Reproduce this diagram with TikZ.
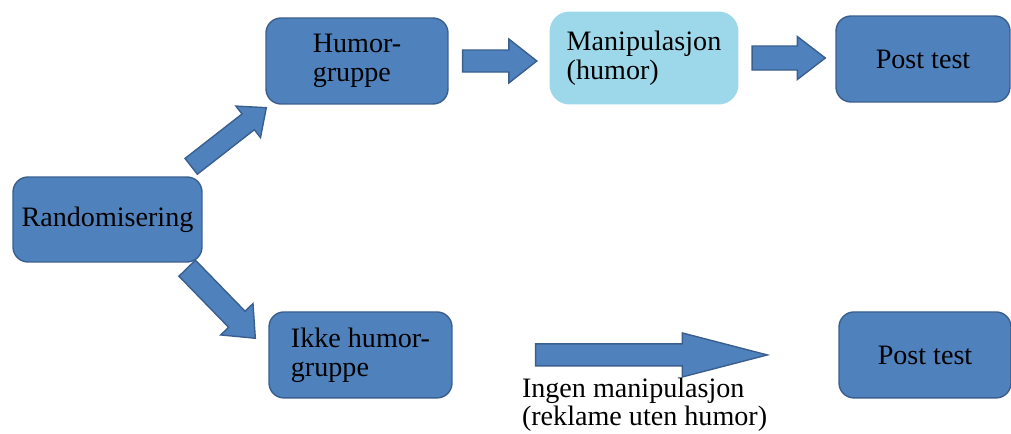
\documentclass[tikz,border=0pt]{standalone}
\usepackage{fontspec}
\setmainfont{Liberation Serif}
\usetikzlibrary{calc}
\definecolor{boxblue}{HTML}{4F81BD}
\definecolor{boxline}{HTML}{3A5F8F}
\definecolor{lightblue}{HTML}{9DD8EA}

\newcommand{\blockarrow}[5]{%
	\coordinate (BA) at ($(#2)!#5!(#1)$);
	\filldraw[arrowfill] ($(#1)!#3!90:(#2)$) -- ($(BA)!#3!90:(#2)$) -- ($(BA)!#4!90:(#2)$)
		-- (#2) -- ($(BA)!#4!-90:(#2)$) -- ($(BA)!#3!-90:(#2)$) -- ($(#1)!#3!-90:(#2)$) -- cycle;
}

\begin{document}
\begin{tikzpicture}[x=0.02cm, y=-0.02cm,
		box/.style={rectangle, rounded corners=0.3cm, draw=boxline, fill=boxblue,
			line width=0.8pt, align=left, font=\fontsize{16}{16.5}\selectfont},
		arrowfill/.style={fill=boxblue, draw=boxline, line width=0.8pt, line join=miter}
		]
		\useasboundingbox (0,0) rectangle (1011,433);

		\node[box, minimum width=3.78cm, minimum height=1.7cm](R0) at (107.5,219.5){Randomisering};
		\node[box, minimum width=3.64cm, minimum height=1.72cm](H1) at (357,61){Humor-\\gruppe};
		\node[box, draw=none, fill=lightblue, rounded corners=0.4cm,
		minimum width=3.78cm, minimum height=1.86cm](M1) at (644,58){Manipulasjon\\(humor)};
		\node[box, align=center, minimum width=3.48cm, minimum height=1.72cm](P1) at (923,59){Post test};
		\node[box, below of = H1, node distance=5.88cm, xshift=0.07cm,
		minimum width=3.66cm, minimum height=1.72cm](I1){Ikke humor-\\gruppe};
		\node[box, align=center, below of = P1, node distance=5.92cm, xshift=0.04cm,
		minimum width=3.44cm, minimum height=1.72cm](P2){Post test};

		\coordinate (A1) at ([xshift=0.28cm]H1.east);
		\coordinate (B1) at ([xshift=-0.24cm]M1.west |- A1);
		\coordinate (A2) at ([xshift=0.26cm]M1.east);
		\coordinate (B2) at ([xshift=-0.2cm]P1.west |- A2);
		\coordinate (A3) at ([shift={(-0.23cm,0.2cm)}]R0.north east);
		\coordinate (B3) at ([shift={(0.02cm,-0.06cm)}]H1.south west);
		\coordinate (A4) at ([shift={(-0.31cm,-0.11cm)}]R0.south east);
		\coordinate (B4) at ([shift={(-0.26cm,-0.54cm)}]I1.north west);
		\coordinate (A5) at ([xshift=1.66cm]I1.east);
		\coordinate (B5) at ([xshift=-1.42cm]P2.west |- A5);

		\blockarrow{A1}{B1}{0.22cm}{0.44cm}{0.56cm}
		\blockarrow{A2}{B2}{0.24cm}{0.43cm}{0.56cm}
		\blockarrow{A3}{B3}{0.2cm}{0.4cm}{0.46cm}
		\blockarrow{A4}{B4}{0.23cm}{0.45cm}{0.53cm}
		\blockarrow{A5}{B5}{0.22cm}{0.44cm}{1.7cm}

		\node[anchor=north west, inner sep=0pt, align=left, font=\fontsize{16}{14.2}\selectfont]
		(L1) at ([shift={(-0.28cm,-0.46cm)}]A5){Ingen manipulasjon\\(reklame uten humor)};
	\end{tikzpicture}
\end{document}
